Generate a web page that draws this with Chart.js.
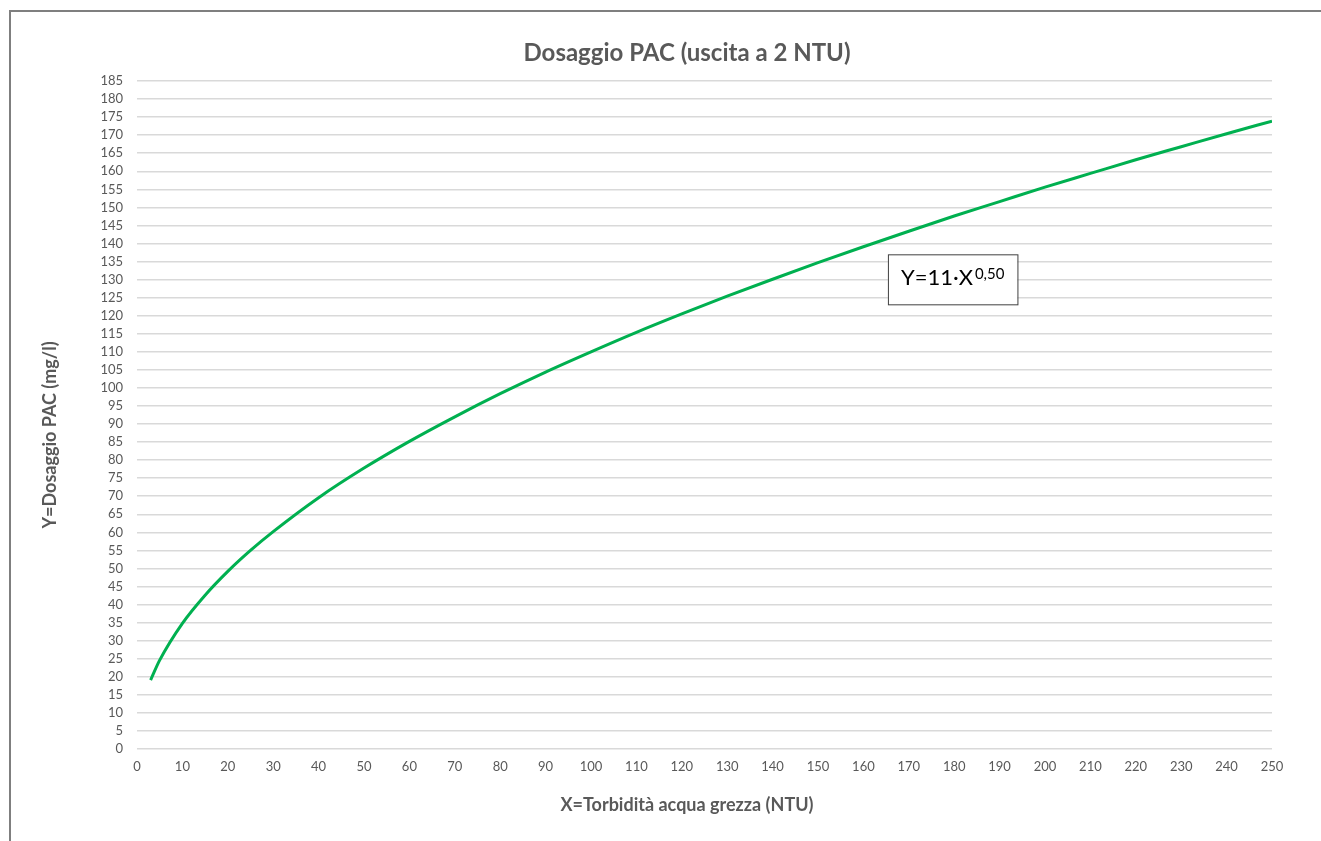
<!DOCTYPE html>
<html><head><meta charset="utf-8">
<script src="https://cdn.jsdelivr.net/npm/chart.js@4"></script>
<style>
html,body{margin:0;padding:0;background:#fff;overflow:hidden;}
#wrap{position:relative;width:1321px;height:841px;}
#frame{position:absolute;left:9px;top:10px;width:1400px;height:900px;border-left:2px solid #7f7f7f;border-top:2px solid #7f7f7f;pointer-events:none;}
canvas{position:absolute;left:0;top:0;}
</style></head>
<body><div id="wrap"><div id="frame"></div><canvas id="c" width="1321" height="841"></canvas></div>
<script>
const chartTitle = "Dosaggio PAC (uscita a 2 NTU)";
const xAxisTitle = "X=Torbidità acqua grezza (NTU)";
const yAxisTitle = "Y=Dosaggio PAC (mg/l)";
const turbidity = [3, 5, 10, 15, 20, 25, 30, 40, 50, 60, 70, 80, 90, 100, 110, 120, 130, 140, 150, 160, 170, 180, 190, 200, 210, 220, 230, 240, 250];
const dosage = [19.1, 24.6, 34.8, 42.6, 49.2, 55, 60.2, 69.6, 77.8, 85.2, 92, 98.4, 104.4, 110, 115.4, 120.5, 125.4, 130.1, 134.7, 139.1, 143.4, 147.6, 151.6, 155.6, 159.4, 163.2, 166.8, 170.4, 173.9];
const eqMain = "Y=11·X";
const eqExp = "0,50";
const eqAnchor = [165.4, 137]; // data coords of box top-left

const FONT = "Lato";
const GRAY = "#595959";

const textPlugin = {
  id: 'texts',
  afterDraw(chart) {
    const {ctx, scales:{x, y}} = chart;
    ctx.save();
    ctx.fillStyle = GRAY;
    ctx.textAlign = 'center';
    ctx.textBaseline = 'alphabetic';
    ctx.font = `bold 24px ${FONT}`;
    ctx.fillText(chartTitle, 687, 61);
    ctx.font = `bold 18px ${FONT}`;
    ctx.fillText(xAxisTitle, 687, 811);
    ctx.save();
    ctx.translate(50, 435);
    ctx.rotate(-Math.PI / 2);
    ctx.textBaseline = 'middle';
    ctx.fillText(yAxisTitle, 0, 0);
    ctx.restore();

    const left = x.getPixelForValue(eqAnchor[0]);
    const top = y.getPixelForValue(eqAnchor[1]);
    ctx.textAlign = 'left';
    ctx.textBaseline = 'alphabetic';
    ctx.font = `22px ${FONT}`;
    const w1 = ctx.measureText(eqMain).width;
    ctx.font = `15px ${FONT}`;
    const w2 = ctx.measureText(eqExp).width;
    const padX = 13, h = 50;
    const w = w1 + w2 + padX * 2 + 2;
    ctx.fillStyle = "#fff";
    ctx.fillRect(left, top, w, h);
    ctx.strokeStyle = "#404040";
    ctx.lineWidth = 1;
    ctx.strokeRect(left + 0.5, top + 0.5, w, h);
    ctx.fillStyle = "#000";
    ctx.font = `22px ${FONT}`;
    ctx.fillText(eqMain, left + padX, top + 31);
    ctx.font = `15px ${FONT}`;
    ctx.fillText(eqExp, left + padX + w1 + 2, top + 25);
    ctx.restore();
  }
};

new Chart(document.getElementById('c'), {
  type: 'scatter',
  data: {
    datasets: [{
      data: turbidity.map((v, i) => ({x: v, y: dosage[i]})),
      showLine: true,
      borderColor: '#00B050',
      borderWidth: 3,
      pointRadius: 0,
      cubicInterpolationMode: 'monotone',
      fill: false
    }]
  },
  options: {
    responsive: false,
    animation: false,
    devicePixelRatio: 1,
    layout: {padding: {left: 35, right: 49, top: 81, bottom: 24}},
    plugins: {
      legend: {display: false},
      tooltip: {enabled: false},
      title: {display: false}
    },
    scales: {
      x: {
        type: 'linear', min: 0, max: 250,
        ticks: {stepSize: 10, color: GRAY, font: {family: FONT, size: 13}, padding: 10, maxRotation: 0, autoSkip: false},
        grid: {display: false, drawTicks: false},
        border: {display: false},
        afterFit(s) { s.height = 68; }
      },
      y: {
        min: 0, max: 185,
        ticks: {stepSize: 5, color: GRAY, font: {family: FONT, size: 13}, padding: 14, autoSkip: false},
        grid: {color: '#d9d9d9', lineWidth: 1.5, drawTicks: false},
        border: {display: false},
        afterFit(s) { s.width = 102; }
      }
    }
  },
  plugins: [textPlugin]
});
</script></body></html>
